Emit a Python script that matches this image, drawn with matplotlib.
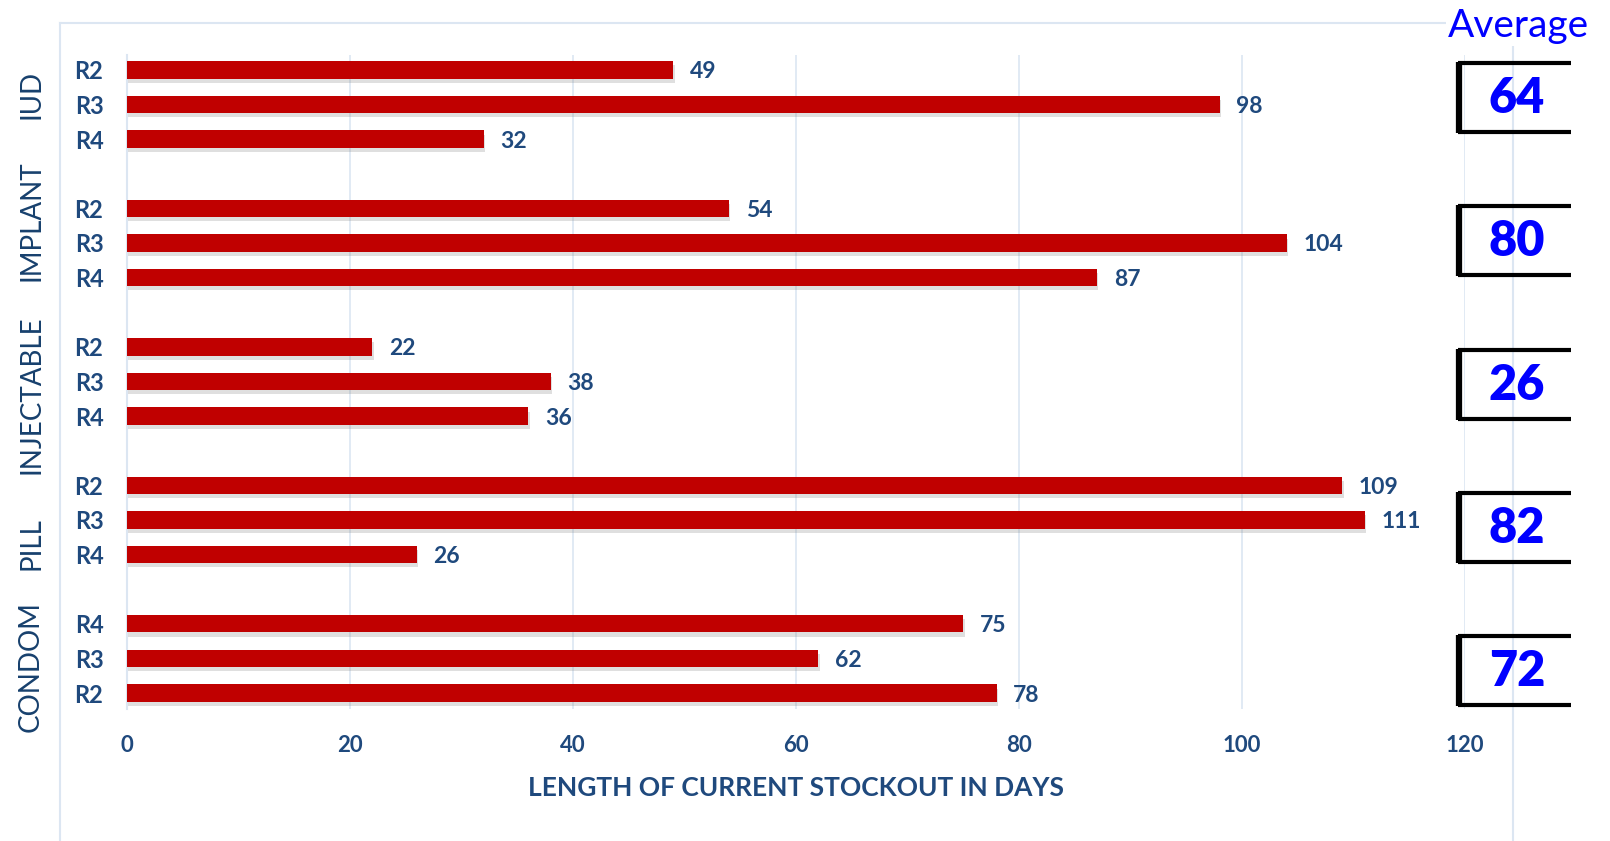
import matplotlib.pyplot as plt
import matplotlib.patheffects as pe
from matplotlib.lines import Line2D

groups = ["IUD", "IMPLANT", "INJECTABLE", "PILL", "CONDOM"]
row_labels = [["R2", "R3", "R4"],
              ["R2", "R3", "R4"],
              ["R2", "R3", "R4"],
              ["R2", "R3", "R4"],
              ["R4", "R3", "R2"]]
values = [[49, 98, 32],
          [54, 104, 87],
          [22, 38, 36],
          [109, 111, 26],
          [75, 62, 78]]
averages = [64, 80, 26, 82, 72]
xticks = [0, 20, 40, 60, 80, 100, 120]

W, H = 1610, 841
RED = "#C00000"
NAVY = "#1F497D"
GROUPC = "#17406D"
GRID = "#DCE6F2"
BLUE = "#0000FF"
FONT = "Lato"

plt.rcParams["font.family"] = [FONT, "DejaVu Sans"]

fig = plt.figure(figsize=(W / 100, H / 100), dpi=100)

def fx(px):
    return px / W

def fy(py):
    return 1 - py / H

# chart frame
frame = dict(color=GRID, lw=1.5, transform=fig.transFigure, zorder=0)
fig.add_artist(Line2D([fx(60), fx(60)], [fy(23), fy(841)], **frame))
fig.add_artist(Line2D([fx(60), fx(1513)], [fy(23), fy(23)], **frame))
fig.add_artist(Line2D([fx(1513), fx(1513)], [fy(23), fy(841)], **frame))

ax = fig.add_axes([fx(127), fy(709), fx(1465) - fx(127), (709 - 55) / H])

ypos, ylabs, xs = [], [], []
for g, (labs, vals) in enumerate(zip(row_labels, values)):
    for i, (lab, v) in enumerate(zip(labs, vals)):
        ypos.append(g * 4 + i)
        ylabs.append(lab)
        xs.append(v)

bars = ax.barh(ypos, xs, height=0.5, color=RED, zorder=3)
for b in bars:
    b.set_path_effects([pe.SimplePatchShadow(offset=(1, -3), shadow_rgbFace="#808080", alpha=0.25),
                        pe.Normal()])

for y, v in zip(ypos, xs):
    ax.annotate(str(v), (v, y), xytext=(12, 0), textcoords="offset points",
                va="center_baseline", ha="left", fontsize=16.5, fontweight="bold", color=NAVY)

ax.set_xlim(0, 120)
ax.set_ylim(18.46, -0.43)
ax.set_xticks(xticks)
ax.set_xticklabels([str(t) for t in xticks])
ax.set_yticks(ypos)
ax.set_yticklabels(ylabs)
ax.tick_params(axis="both", length=0, labelsize=17, labelcolor=NAVY)
ax.tick_params(axis="x", labelsize=16, pad=19)
ax.tick_params(axis="y", pad=17)
for lab in ax.get_xticklabels() + ax.get_yticklabels():
    lab.set_fontweight("bold")

ax.grid(axis="x", color=GRID, lw=1.2, zorder=0)
for s in ["top", "right", "bottom"]:
    ax.spines[s].set_visible(False)
ax.spines["left"].set_color(GRID)
ax.spines["left"].set_linewidth(1.5)

ax.set_xlabel("LENGTH OF CURRENT STOCKOUT IN DAYS", fontsize=19, fontweight="bold",
              color=NAVY, labelpad=14)

# group labels (placed as separate text boxes, like the original)
label_y = [94, 221, 395, 544, 667]
for name, py in zip(groups, label_y):
    fig.text(fx(31), fy(py), name, rotation=90, ha="center", va="center",
             fontsize=20, color=GROUPC)

# averages column
fig.text(fx(1518), fy(37), "Average", ha="center", va="baseline", fontsize=28, color=BLUE,
         bbox=dict(facecolor="white", edgecolor="none", pad=1), zorder=5)
for k, a in enumerate(averages):
    top = 63 + 143.3 * k
    bot = 132 + 143.3 * k
    fig.add_artist(Line2D([fx(1458), fx(1571)], [fy(top), fy(top)], color="black", lw=3,
                          transform=fig.transFigure, solid_capstyle="butt"))
    fig.add_artist(Line2D([fx(1458), fx(1571)], [fy(bot), fy(bot)], color="black", lw=3,
                          transform=fig.transFigure, solid_capstyle="butt"))
    fig.add_artist(Line2D([fx(1459), fx(1459)], [fy(top - 1), fy(bot + 1)], color="black", lw=4.5,
                          transform=fig.transFigure, solid_capstyle="butt"))
    fig.text(fx(1517), fy(113 + 143.3 * k), str(a), ha="center", va="baseline",
             fontsize=35, fontweight="heavy", color=BLUE)

fig.savefig("out.png", dpi=100)
